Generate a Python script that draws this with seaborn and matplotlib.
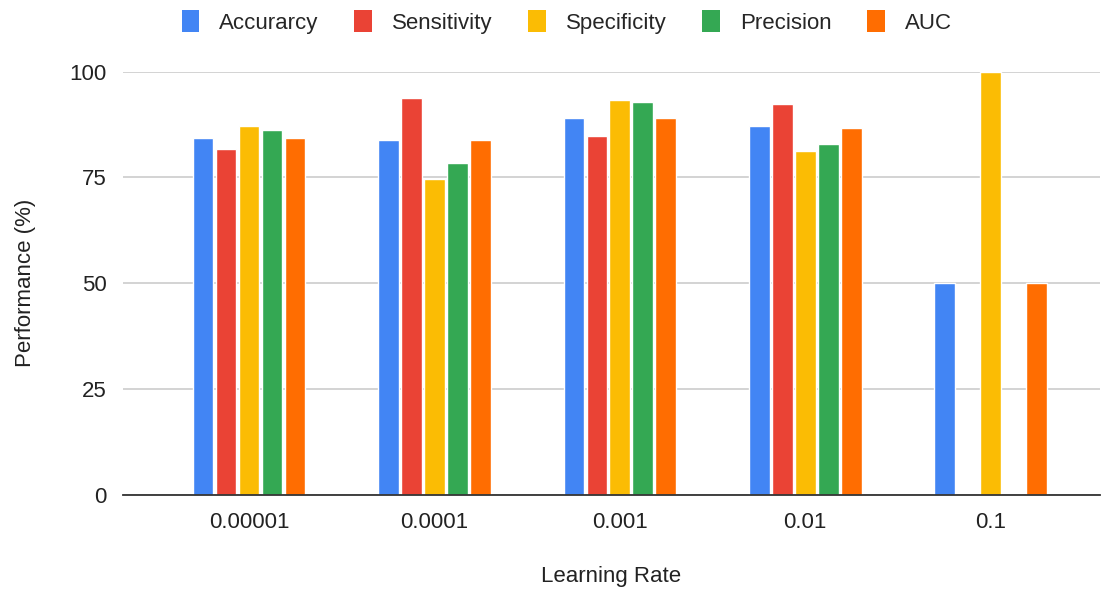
import numpy as np
import pandas as pd
import matplotlib
matplotlib.use("Agg")
import matplotlib.pyplot as plt
import seaborn as sns
from matplotlib.patches import Patch

learning_rates = ["0.00001", "0.0001", "0.001", "0.01", "0.1"]
metrics = ["Accurarcy", "Sensitivity", "Specificity", "Precision", "AUC"]

accuracy = [84.4, 83.9, 89.0, 87.1, 50.0]
sensitivity = [81.7, 93.7, 84.8, 92.4, 0.0]
specificity = [87.2, 74.6, 93.2, 81.2, 100.0]
precision = [86.2, 78.3, 92.8, 82.9, 0.0]
auc = [84.4, 83.9, 89.0, 86.6, 50.0]

colors = ["#4285F4", "#EA4335", "#FBBC04", "#34A853", "#FF6D01"]

df = pd.DataFrame({
    "Learning Rate": learning_rates,
    "Accurarcy": accuracy,
    "Sensitivity": sensitivity,
    "Specificity": specificity,
    "Precision": precision,
    "AUC": auc,
})
df_melt = df.melt(id_vars="Learning Rate", value_vars=metrics,
                  var_name="Metric", value_name="Performance")

sns.set_theme(style="white")
plt.rcParams['font.family'] = ['Liberation Sans', 'DejaVu Sans']

fig = plt.figure(figsize=(11.09, 5.92), dpi=100)
ax = fig.add_axes([123 / 1109, 0.164, (1100 - 123) / 1109, 0.715])

sns.barplot(data=df_melt, x="Learning Rate", y="Performance", hue="Metric",
            hue_order=metrics, order=learning_rates, palette=colors,
            width=0.62, gap=0.1, saturation=1, ax=ax, legend=False)

ax.set_xlim(-0.68, 4.59)
ax.set_ylim(0, 100)
ax.set_yticks([0, 25, 50, 75, 100])
ax.yaxis.grid(True, color="#cccccc", linewidth=1.2)
ax.set_axisbelow(True)
for side in ["top", "right", "left"]:
    ax.spines[side].set_visible(False)
ax.spines["bottom"].set_color("#333333")
ax.spines["bottom"].set_linewidth(1.3)
for p in ax.patches:
    p.set_clip_on(False)
ax.tick_params(axis="both", length=0, labelsize=16, colors="#222222")
ax.tick_params(axis="y", pad=12)
ax.tick_params(axis="x", pad=12)

ax.set_xlabel("Learning Rate", fontsize=16, color="#222222", labelpad=24)
ax.set_ylabel("Performance (%)", fontsize=16, color="#222222", labelpad=24)

handles = [Patch(facecolor=c, edgecolor="none") for c in colors]
fig.legend(handles, metrics, loc="center", bbox_to_anchor=(0.511, 0.963),
           ncol=5, frameon=False, fontsize=16, handlelength=0.8,
           handleheight=1.1, handletextpad=0.9, columnspacing=1.6)

plt.savefig("out.png", dpi=100)
plt.close()
